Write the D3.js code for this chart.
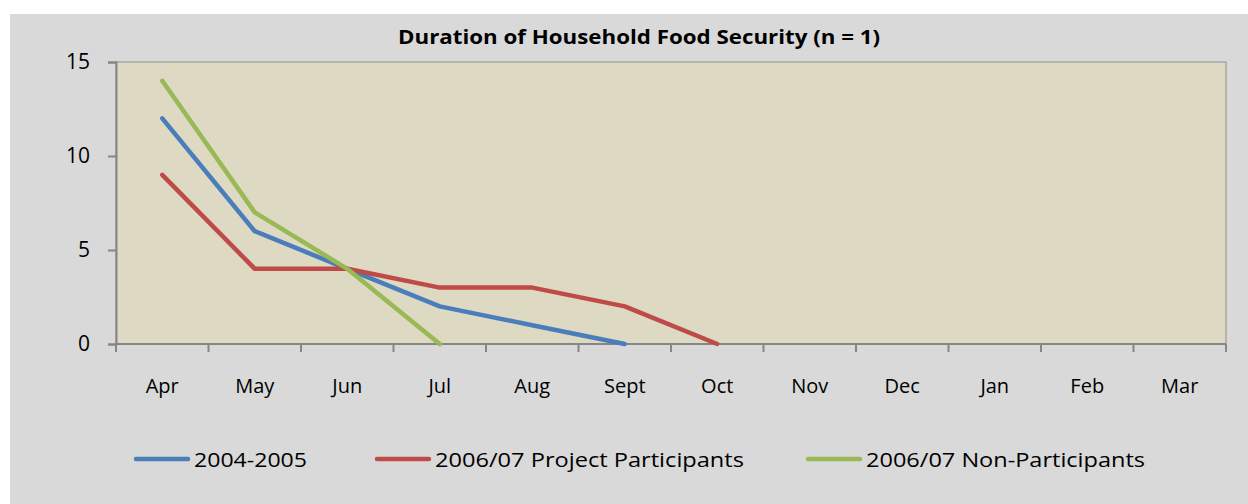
<!DOCTYPE html>
<html>
<head>
<meta charset="utf-8">
<script src="https://cdn.jsdelivr.net/npm/d3@7"></script>
<style>
  body { margin: 0; background: #fff; }
  svg text { font-family: "Open Sans", "Noto Sans", sans-serif; fill: #000; }
</style>
</head>
<body>
<div id="chart"></div>
<script>
var months = ["Apr", "May", "Jun", "Jul", "Aug", "Sept", "Oct", "Nov", "Dec", "Jan", "Feb", "Mar"];
var yTicks = [0, 5, 10, 15];
var seriesNames = ["2004-2005", "2006/07 Project Participants", "2006/07 Non-Participants"];
var seriesColors = ["#4a7ebb", "#be4b48", "#98b954"];
var values2004 = [12, 6, 4, 2, 1, 0];
var valuesParticipants = [9, 4, 4, 3, 3, 2, 0];
var valuesNonParticipants = [14, 7, 4, 0];
var allSeries = [values2004, valuesParticipants, valuesNonParticipants];

var width = 1248, height = 504;
var plotLeft = 116, plotRight = 1226, plotTop = 62, plotBottom = 344;

var svg = d3.select("#chart").append("svg")
    .attr("width", width)
    .attr("height", height);

// outer chart area
svg.append("rect")
    .attr("x", 10).attr("y", 14)
    .attr("width", width - 10).attr("height", height - 14)
    .attr("fill", "#d9d9d9");

var x = d3.scaleBand().domain(months).range([plotLeft, plotRight]);
var y = d3.scaleLinear().domain([0, 15]).range([plotBottom, plotTop]);

// plot area
svg.append("rect")
    .attr("x", plotLeft).attr("y", plotTop)
    .attr("width", plotRight - plotLeft).attr("height", plotBottom - plotTop)
    .attr("fill", "#ddd9c3")
    .attr("stroke", "#a6a6a6")
    .attr("stroke-width", 1.5);

svg.append("text")
    .attr("x", 639).attr("y", 44)
    .attr("text-anchor", "middle")
    .attr("font-weight", "bold")
    .attr("font-size", 19.5)
    .attr("textLength", 482)
    .attr("lengthAdjust", "spacingAndGlyphs")
    .text("Duration of Household Food Security (n = 1)");

// y axis
var yAxis = svg.append("g")
    .attr("transform", "translate(" + plotLeft + ",0)")
    .call(d3.axisLeft(y).tickValues(yTicks).tickSize(8).tickPadding(18));
yAxis.select(".domain").attr("stroke", "#868686").attr("stroke-width", 2);
yAxis.selectAll(".tick line").attr("stroke", "#868686").attr("stroke-width", 2);
yAxis.selectAll(".tick text").attr("font-size", 21).attr("fill", "#000");

// x axis with ticks on the category boundaries
var xAxis = svg.append("g")
    .attr("transform", "translate(0," + plotBottom + ")");
xAxis.append("line")
    .attr("x1", plotLeft).attr("x2", plotRight)
    .attr("stroke", "#868686").attr("stroke-width", 2);
var bounds = months.map(function(m) { return x(m); }).concat([plotRight]);
xAxis.selectAll("line.tick")
    .data(bounds)
    .enter().append("line")
    .attr("class", "tick")
    .attr("x1", function(d) { return d; })
    .attr("x2", function(d) { return d; })
    .attr("y1", 0).attr("y2", 8)
    .attr("stroke", "#868686").attr("stroke-width", 2);
xAxis.selectAll("text")
    .data(months)
    .enter().append("text")
    .attr("x", function(d) { return x(d) + x.bandwidth() / 2; })
    .attr("y", 49)
    .attr("text-anchor", "middle")
    .attr("font-size", 20)
    .text(function(d) { return d; });

// lines
var line = d3.line()
    .x(function(d, i) { return x(months[i]) + x.bandwidth() / 2; })
    .y(function(d) { return y(d); });

svg.selectAll("path.series")
    .data(allSeries)
    .enter().append("path")
    .attr("class", "series")
    .attr("d", line)
    .attr("fill", "none")
    .attr("stroke", function(d, i) { return seriesColors[i]; })
    .attr("stroke-width", 4.5)
    .attr("stroke-linejoin", "round")
    .attr("stroke-linecap", "round");

// legend
var legendX = [134, 375, 806];
var legendW = [113, 309, 279];
var lg = svg.selectAll("g.legend")
    .data(seriesNames)
    .enter().append("g")
    .attr("class", "legend")
    .attr("transform", function(d, i) { return "translate(" + legendX[i] + ",459)"; });
lg.append("line")
    .attr("x1", 2).attr("x2", 54)
    .attr("stroke", function(d, i) { return seriesColors[i]; })
    .attr("stroke-width", 4.5)
    .attr("stroke-linecap", "round");
lg.append("text")
    .attr("x", 60).attr("y", 8)
    .attr("font-size", 20)
    .attr("textLength", function(d, i) { return legendW[i]; })
    .attr("lengthAdjust", "spacingAndGlyphs")
    .text(function(d) { return d; });
</script>
</body>
</html>
